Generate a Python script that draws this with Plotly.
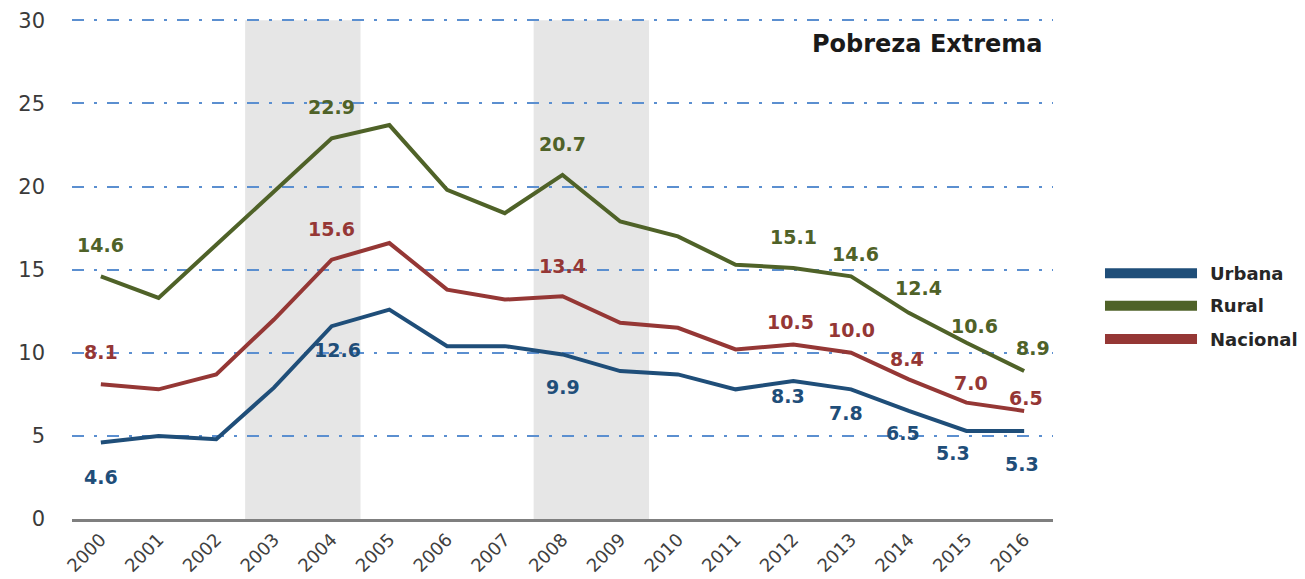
import plotly.graph_objects as go

# ---------------- data ----------------
years = [2000, 2001, 2002, 2003, 2004, 2005, 2006, 2007, 2008,
         2009, 2010, 2011, 2012, 2013, 2014, 2015, 2016]
urbana = [4.6, 5.0, 4.8, 7.9, 11.6, 12.6, 10.4, 10.4, 9.9,
          8.9, 8.7, 7.8, 8.3, 7.8, 6.5, 5.3, 5.3]
rural = [14.6, 13.3, 16.5, 19.7, 22.9, 23.7, 19.8, 18.4, 20.7,
         17.9, 17.0, 15.3, 15.1, 14.6, 12.4, 10.6, 8.9]
nacional = [8.1, 7.8, 8.7, 12.0, 15.6, 16.6, 13.8, 13.2, 13.4,
            11.8, 11.5, 10.2, 10.5, 10.0, 8.4, 7.0, 6.5]
series_names = ["Urbana", "Rural", "Nacional"]
title_text = "Pobreza Extrema"
y_ticks = [0, 5, 10, 15, 20, 25, 30]
shaded_periods = [(2003, 2004), (2008, 2009)]

# indices of labelled points per series
urbana_label_idx = [0, 5, 8, 12, 13, 14, 15, 16]
rural_label_idx = [0, 4, 8, 12, 13, 14, 15, 16]
nacional_label_idx = [0, 4, 8, 12, 13, 14, 15, 16]

# ---------------- styling ----------------
colors = {"Urbana": "#1F4E79", "Rural": "#4F6228", "Nacional": "#953735"}
# label pixel offsets (xshift, yshift)
urbana_label_off = [(0, -34), (-52, -40), (0, -33), (-5, -15), (-5, -24),
                    (-6, -22), (-13, -22), (-2, -33)]
rural_label_off = [(0, 31), (0, 31), (0, 31), (0, 31), (4, 22),
                   (10, 25), (8, 17), (9, 23)]
nacional_label_off = [(0, 32), (0, 31), (0, 30), (-3, 22), (0, 23),
                      (-2, 20), (5, 20), (2, 13)]

series = [
    ("Urbana", urbana, urbana_label_idx, urbana_label_off),
    ("Rural", rural, rural_label_idx, rural_label_off),
    ("Nacional", nacional, nacional_label_idx, nacional_label_off),
]

fig = go.Figure()
annotations = []
for name, vals, idxs, offs in series:
    fig.add_trace(go.Scatter(
        x=years, y=vals, mode="lines", name=name,
        line=dict(color=colors[name], width=4),
        showlegend=False, hoverinfo="x+y+name",
    ))
    for i, (dx, dy) in zip(idxs, offs):
        annotations.append(dict(
            x=years[i], y=vals[i], xref="x", yref="y",
            text=f"{vals[i]:.1f}", showarrow=False,
            xshift=dx, yshift=dy, xanchor="center", yanchor="middle",
            font=dict(family="DejaVu Sans", size=19, color=colors[name],
                      weight="bold"),
        ))

shapes = []
for a, b in shaded_periods:
    shapes.append(dict(type="rect", xref="x", yref="y",
                       x0=a - 0.5, x1=b + 0.5, y0=y_ticks[0], y1=y_ticks[-1],
                       fillcolor="#e6e6e6", line=dict(width=0), layer="below"))

# manual legend (long swatches)
legend_y = [0.4914, 0.4266, 0.36]
for name, ly in zip(series_names, legend_y):
    shapes.append(dict(type="line", xref="paper", yref="paper",
                       x0=1.053, x1=1.1468, y0=ly, y1=ly,
                       line=dict(color=colors[name], width=10)))
    annotations.append(dict(
        x=1.158, y=ly, xref="paper", yref="paper", text=name,
        showarrow=False, xanchor="left", yanchor="middle",
        font=dict(family="DejaVu Sans", size=18, color="#262626",
                  weight="bold"),
    ))

annotations.append(dict(
    x=0.9918, y=0.95, xref="paper", yref="paper", text=title_text,
    showarrow=False, xanchor="right", yanchor="middle",
    font=dict(family="DejaVu Sans", size=24, color="#1a1a1a", weight="bold"),
))

# page has an 8px body margin, so the figure is sized/offset accordingly
fig.update_layout(
    width=1297, height=571,
    margin=dict(l=64, r=252, t=11, b=60, autoexpand=False),
    paper_bgcolor="white", plot_bgcolor="white",
    shapes=shapes, annotations=annotations,
    showlegend=False,
    xaxis=dict(
        range=[years[0] - 0.5, years[-1] + 0.5],
        tickmode="array", tickvals=years, ticktext=[str(y) for y in years],
        tickangle=-45, showgrid=False, zeroline=False,
        showline=True, linecolor="#7f7f7f", linewidth=3,
        ticks="", automargin=False,
        tickfont=dict(family="DejaVu Sans", size=18, color="#404040"),
        fixedrange=True,
    ),
    yaxis=dict(
        range=[y_ticks[0], y_ticks[-1] + 0.08],
        tickmode="array", tickvals=y_ticks,
        showgrid=True, gridcolor="#5b8fd0", gridwidth=2,
        griddash="12px,10px,3px,10px",
        zeroline=False, showline=False, ticks="", automargin=False,
        ticklabelstandoff=26,
        tickfont=dict(family="DejaVu Sans", size=21, color="#3a3a3a"),
        fixedrange=True,
    ),
)

fig.write_html("out.html")
